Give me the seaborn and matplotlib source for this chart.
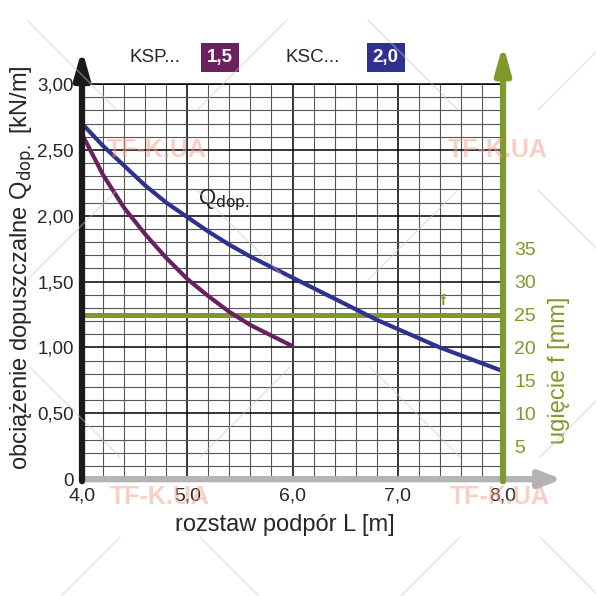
import numpy as np
import pandas as pd
import seaborn as sns
import matplotlib
matplotlib.use("Agg")
import matplotlib.pyplot as plt
from matplotlib.lines import Line2D
from matplotlib.ticker import MultipleLocator, FixedLocator

# dane (co 0,2 m)
L_ksp = [4.0, 4.2, 4.4, 4.6, 4.8, 5.0, 5.2, 5.4, 5.6, 5.8, 6.0]
Q_ksp = [2.62, 2.31, 2.06, 1.86, 1.68, 1.52, 1.39, 1.27, 1.17, 1.09, 1.01]
L_ksc = [4.0, 4.2, 4.4, 4.6, 4.8, 5.0, 5.2, 5.4, 5.6, 5.8, 6.0,
         6.2, 6.4, 6.6, 6.8, 7.0, 7.2, 7.4, 7.6, 7.8, 8.0]
Q_ksc = [2.70, 2.53, 2.38, 2.23, 2.10, 1.99, 1.88, 1.78, 1.69, 1.61, 1.53,
         1.45, 1.37, 1.29, 1.21, 1.14, 1.07, 1.00, 0.94, 0.88, 0.82]
f_limit = 25          # ugiecie dopuszczalne [mm]
f_ticks = [5, 10, 15, 20, 25, 30, 35]
x_ticks = [4.0, 5.0, 6.0, 7.0, 8.0]
x_labels = ["4,0", "5,0", "6,0", "7,0", "8,0"]
y_ticks = [0, 0.5, 1.0, 1.5, 2.0, 2.5, 3.0]
y_labels = ["0", "0,50", "1,00", "1,50", "2,00", "2,50", "3,00"]

purple = "#6A1F5E"
blue = "#2E3190"
green = "#7F9A2B"

sns.set_style("white")
plt.rcParams["font.family"] = ["Liberation Sans", "DejaVu Sans"]

df_ksp = pd.DataFrame({"L": L_ksp, "Q": Q_ksp})
df_ksc = pd.DataFrame({"L": L_ksc, "Q": Q_ksc})

fig = plt.figure(figsize=(5.96, 5.96), dpi=100)
ax = fig.add_axes([0.1376, 0.196, 0.7064, 0.663])

ax.set_xlim(4, 8)
ax.set_ylim(0, 3)
ax.xaxis.set_minor_locator(MultipleLocator(0.2))
ax.yaxis.set_minor_locator(MultipleLocator(0.1))
ax.grid(which="minor", color="#555555", lw=0.8)
ax.grid(which="major", color="black", lw=1.1)
ax.set_axisbelow(True)

sns.lineplot(data=df_ksp, x="L", y="Q", color=purple, lw=3.0, ax=ax, zorder=3,
             solid_joinstyle="round", solid_capstyle="round")
sns.lineplot(data=df_ksc, x="L", y="Q", color=blue, lw=3.0, ax=ax, zorder=3,
             solid_joinstyle="round", solid_capstyle="round")
ax.axhline(f_limit / 20, color=green, lw=3.6, zorder=2)
ax.text(7.43, 1.30, "f", color=green, fontsize=10, fontweight="bold", ha="center", va="bottom")
ax.text(5.1, 2.12, r"Q$_{\mathrm{dop.}}$", fontsize=16, ha="left", va="center",
        color="#222222")

ax.set_xticks(x_ticks)
ax.set_xticklabels(x_labels, fontsize=14)
ax.set_yticks(y_ticks)
ax.set_yticklabels(y_labels, fontsize=13.5)
ax.tick_params(axis="x", which="both", length=0, pad=6)
ax.tick_params(axis="y", which="both", length=0, pad=6)
ax.set_xlabel("rozstaw podpór L [m]", fontsize=17)
ax.xaxis.set_label_coords(0.481, -0.087)
ax.set_ylabel(r"obciążenie dopuszczalne Q$_{\mathrm{dop.}}$ [kN/m]", fontsize=17)
ax.yaxis.set_label_coords(-0.105, 0.534)

for s in ["left", "bottom", "right"]:
    ax.spines[s].set_visible(False)
ax.spines["top"].set_color("black")
ax.spines["top"].set_linewidth(1.1)

# prawa os - ugiecie
ax2 = ax.twinx()
ax2.set_ylim(0, 60)
ax2.yaxis.set_major_locator(FixedLocator(f_ticks))
ax2.tick_params(axis="y", colors=green, labelsize=14, length=0, pad=8)
ax2.set_ylabel("ugięcie f [mm]", color=green, fontsize=17)
ax2.yaxis.set_label_coords(1.107, 0.276)
for s in ax2.spines.values():
    s.set_visible(False)

# strzalki osi
ax.annotate("", xy=(1.14, 0), xytext=(0, 0), xycoords="axes fraction",
            arrowprops=dict(arrowstyle="-|>,head_length=1.3,head_width=0.5",
                            lw=4.5, color="#b3b3b3", shrinkA=0, shrinkB=0), zorder=4)
ax.annotate("", xy=(0, 1.088), xytext=(0, -0.005), xycoords="axes fraction",
            arrowprops=dict(arrowstyle="-|>,head_length=1.6,head_width=0.45",
                            lw=4.5, color="#1a1a1a", shrinkA=0, shrinkB=0), zorder=5)
ax.annotate("", xy=(1.0, 1.1), xytext=(1.0, -0.005), xycoords="axes fraction",
            arrowprops=dict(arrowstyle="-|>,head_length=1.6,head_width=0.45",
                            lw=4.5, color=green, shrinkA=0, shrinkB=0), zorder=5)

# naglowek
fig.text(155 / 596, 1 - 58 / 596, "KSP...", fontsize=13.5, ha="center", va="center")
fig.text(219.5 / 596, 1 - 57.5 / 596, "1,5", fontsize=13.5, ha="center", va="center",
         color="white", fontweight="bold",
         bbox=dict(boxstyle="square,pad=0.32", fc=purple, ec="none"))
fig.text(313 / 596, 1 - 58 / 596, "KSC...", fontsize=13.5, ha="center", va="center")
fig.text(385.5 / 596, 1 - 57.5 / 596, "2,0", fontsize=13.5, ha="center", va="center",
         color="white", fontweight="bold",
         bbox=dict(boxstyle="square,pad=0.32", fc=blue, ec="none"))

# znaki wodne
for wx, wy in [(157, 150), (498, 150), (160, 497), (500, 497)]:
    for dx, dy in [(1, 1), (1, -1), (-1, 1), (-1, -1)]:
        xs = [(wx + dx * 40) / 596, (wx + dx * 130) / 596]
        ys = [1 - (wy + dy * 40) / 596, 1 - (wy + dy * 130) / 596]
        fig.add_artist(Line2D(xs, ys, color="#c8c8c8", lw=1.0, alpha=0.5, zorder=9))
    fig.text(wx / 596, 1 - wy / 596, "TF-K.UA", fontsize=18, fontweight="bold",
             color="#f0a08c", alpha=0.5, ha="center", va="center", zorder=10)

fig.savefig("out.png", dpi=100)
